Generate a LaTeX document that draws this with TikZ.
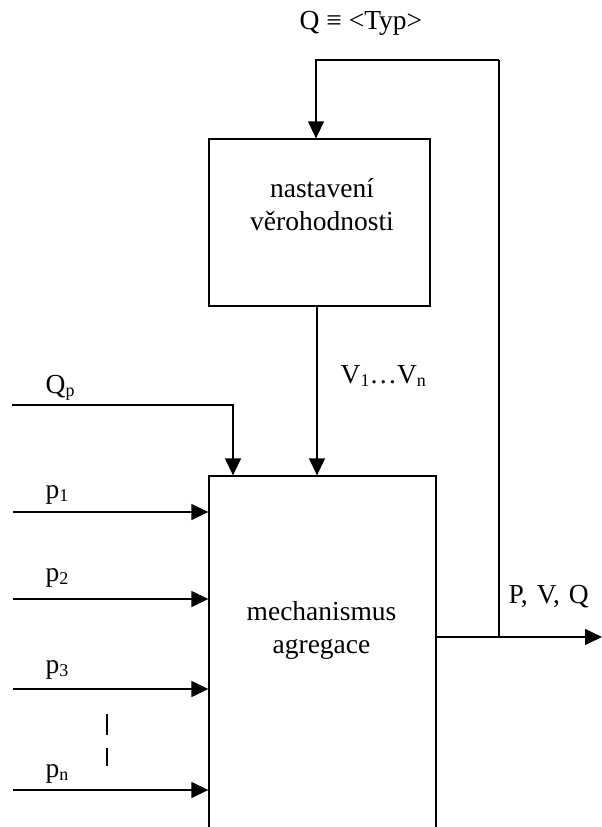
\documentclass[tikz,border=0pt]{standalone}
\usepackage{fontspec}
\setmainfont{Liberation Serif}
\usetikzlibrary{arrows.meta}
\newcommand{\mysub}[1]{\raisebox{-3pt}{\fontsize{18}{18}\selectfont #1}}
\begin{document}
\begin{tikzpicture}[x=1pt,y=-1pt,
  line width=1.3pt,
  arr/.style={-{Triangle[length=17pt,width=16pt]}},
  blk/.style={draw,rectangle,inner sep=0pt},
  lbl/.style={inner sep=0pt,anchor=base west,font=\fontsize{27.5}{33}\selectfont},
  ctr/.style={inner sep=0pt,align=center,font=\fontsize{27.5}{33}\selectfont}]
\useasboundingbox (0,0) rectangle (602,827);
\begin{scope}
\clip (0,0) rectangle (602,827);
% blocks
\node[blk,minimum width=221pt,minimum height=167pt] (topbox) at (319.5,222.5) {};
\node[blk,minimum width=227pt,minimum height=384pt] (mainbox) at (322.5,668) {};
\end{scope}
\node[ctr,anchor=base] (t1) at (322,197) {nastavení};
\node[ctr,anchor=base] (t2) at (322,230) {věrohodnosti};
\node[ctr,anchor=base] (m1) at (321.5,620) {mechanismus};
\node[ctr,anchor=base] (m2) at (321.5,653) {agregace};
% coordinates
\coordinate (fbx) at (316,60);
\coordinate (fbr) at (499,60);
\coordinate (vx) at (317,400);
\coordinate (qx) at (233,405);
\coordinate (qs) at (12,405);
\coordinate (out) at (602,637);
\coordinate (s1) at (13,512);
\coordinate (s2) at (13,599);
\coordinate (s3) at (13,689);
\coordinate (sn) at (13,790);
\coordinate (d1) at (107,714);
\coordinate (d2) at (107,766);
% connectors
\draw[arr] (fbr) -- (fbx) -- (fbx |- topbox.north);
\draw (fbr) -- (fbr |- out);
\draw[arr] (mainbox.east |- out) -- (out);
\draw[arr] (vx |- topbox.south) -- (vx |- mainbox.north);
\draw[arr] (qs) -- (qx) -- (qx |- mainbox.north);
\draw[arr] (s1) -- (s1 -| mainbox.west);
\draw[arr] (s2) -- (s2 -| mainbox.west);
\draw[arr] (s3) -- (s3 -| mainbox.west);
\draw[arr] (sn) -- (sn -| mainbox.west);
\draw[dash pattern=on 21pt off 13pt] (d1) -- (d2);
% labels
\node[lbl] (lq) at (299,29) {Q ≡ <Typ>};
\node[lbl] (lv) at (340,383) {V\mysub{1}…V\mysub{n}};
\node[lbl] (lqp) at (45,393) {Q\mysub{p}};
\node[lbl] (lp1) at (45,498) {p\mysub{1}};
\node[lbl] (lp2) at (45,581) {p\mysub{2}};
\node[lbl] (lp3) at (45,673) {p\mysub{3}};
\node[lbl] (lpn) at (45,777) {p\mysub{n}};
\node[lbl] (lout) at (508,603) {P,\hspace{9pt}V,\hspace{9pt}Q};
\end{tikzpicture}
\end{document}
